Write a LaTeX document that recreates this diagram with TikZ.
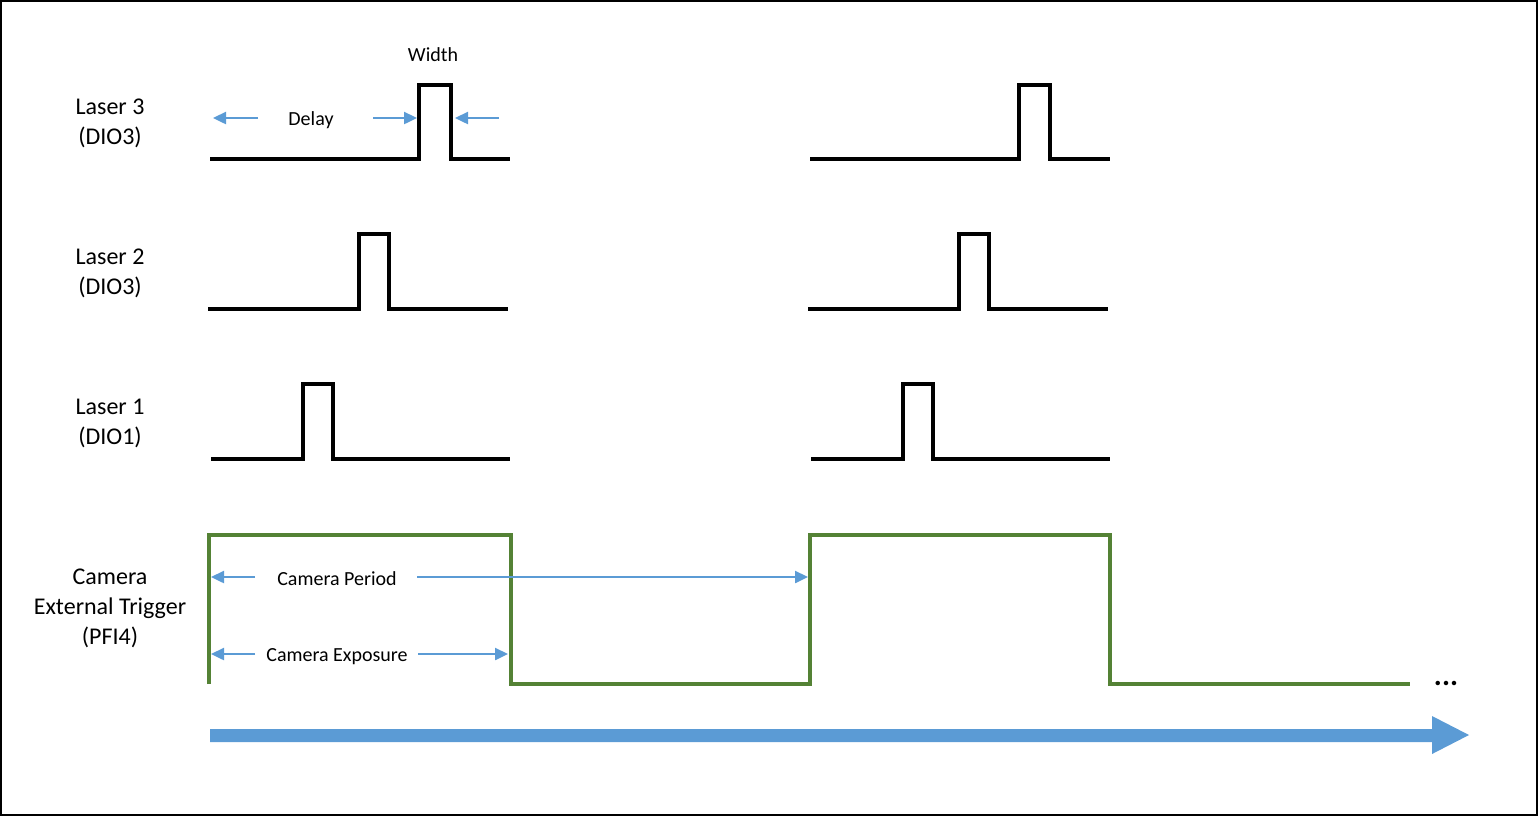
\documentclass[tikz,border=0pt]{standalone}
\usepackage{fontspec}
\setmainfont{Carlito}
\usetikzlibrary{arrows.meta}
\definecolor{wblue}{HTML}{5B9BD5}
\definecolor{wgreen}{HTML}{548235}
\tikzset{
  sig/.style={line width=2pt, black},
  cam/.style={line width=2pt, wgreen},
  dim/.style={line width=1.2pt, wblue, -{Triangle[length=6.5pt,width=6pt]}},
  lbl/.style={font=\fontsize{12}{15}\selectfont, align=center, inner sep=0pt},
  sml/.style={font=\fontsize{10}{12}\selectfont, inner sep=0pt},
}
\begin{document}
\begin{tikzpicture}[x=0.5pt,y=-0.5pt]
\useasboundingbox (0,0) rectangle (1538,816);
\draw[line width=1pt] (1,1) rectangle (1537,815);

% labels
\node[lbl] (l3) at (110,123) {Laser 3\\(DIO3)};
\node[lbl] (l2) at (110,273) {Laser 2\\(DIO3)};
\node[lbl] (l1) at (110,423) {Laser 1\\(DIO1)};
\node[lbl] (cm) at (110,608) {Camera\\External Trigger\\(PFI4)};

% Laser 3
\draw[sig] (210,159) -- (419,159) -- (419,85) -- (451,85) -- (451,159) -- (510,159);
\draw[sig] (810,159) -- (1019,159) -- (1019,85) -- (1050,85) -- (1050,159) -- (1110,159);
% Laser 2
\draw[sig] (208,309) -- (359,309) -- (359,234) -- (389,234) -- (389,309) -- (508,309);
\draw[sig] (808,309) -- (959,309) -- (959,234) -- (989,234) -- (989,309) -- (1108,309);
% Laser 1
\draw[sig] (211,459) -- (303,459) -- (303,384) -- (333,384) -- (333,459) -- (510,459);
\draw[sig] (811,459) -- (903,459) -- (903,384) -- (933,384) -- (933,459) -- (1110,459);

% Camera trigger
\draw[cam] (209,684) -- (209,535) -- (511,535) -- (511,684) -- (810,684) -- (810,535) -- (1110,535) -- (1110,684) -- (1410,684);
\node[inner sep=0pt, font=\fontsize{15}{18}\selectfont\bfseries] (dots) at (1446,683) {...};

% Width / Delay
\node[sml] (width) at (433,55) {Width};
\node[sml] (delay) at (311,120) {Delay};
\coordinate (d1s) at (258,118); \coordinate (d1e) at (213,118);
\coordinate (d2s) at (373,118); \coordinate (d2e) at (417,118);
\coordinate (w1s) at (499,118); \coordinate (w1e) at (455,118);
\draw[dim] (d1s) -- (d1e);
\draw[dim] (d2s) -- (d2e);
\draw[dim] (w1s) -- (w1e);

% Camera period / exposure
\node[sml] (per) at (337,579) {Camera Period};
\node[sml] (exp) at (337,657) {Camera Exposure};
\coordinate (p1s) at (255,577); \coordinate (p1e) at (211,577);
\coordinate (p2s) at (417,577); \coordinate (p2e) at (808,577);
\coordinate (e1s) at (255,654); \coordinate (e1e) at (211,654);
\coordinate (e2s) at (418,654); \coordinate (e2e) at (508,654);
\draw[dim] (p1s) -- (p1e);
\draw[dim] (p2s) -- (p2e);
\draw[dim] (e1s) -- (e1e);
\draw[dim] (e2s) -- (e2e);

% time arrow
\fill[wblue] (210,729) -- (1432,729) -- (1432,716) -- (1469,735) -- (1432,754) -- (1432,742) -- (210,742) -- cycle;
\end{tikzpicture}
\end{document}
